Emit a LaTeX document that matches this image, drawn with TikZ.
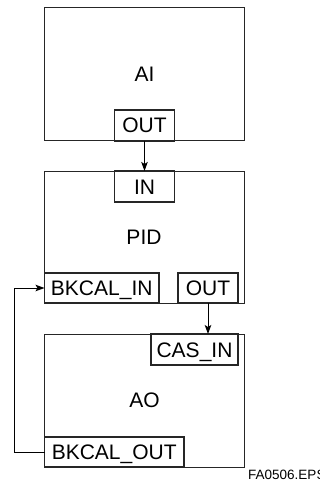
\documentclass[tikz,border=0pt]{standalone}
\usepackage{fontspec}
\setmainfont{Liberation Sans}
\usetikzlibrary{arrows.meta}
\begin{document}
\begin{tikzpicture}[x=1pt,y=-1pt,
  blk/.style={draw=black!85, line width=1pt, inner sep=0pt, outer sep=0pt, anchor=north west},
  port/.style={draw=black!85, line width=1.1pt, inner sep=0pt, outer sep=0pt, anchor=north west,
    font=\fontsize{21}{24}\selectfont, text height=15pt, text depth=0pt, align=center},
  lbl/.style={inner sep=0pt, font=\fontsize{21}{24}\selectfont, text height=15pt, text depth=0pt},
  conn/.style={draw=black, line width=1pt, -{Stealth[length=9pt,width=6.5pt,inset=2pt]}}
]
\useasboundingbox (0,0) rectangle (320,481);
% AI block
\node[blk, minimum width=200pt, minimum height=133pt] (ai) at (44.5,8) {};
\node[lbl] (ailbl) at (144.5,74) {AI};
\node[port, minimum width=60pt, minimum height=31pt] (aiout) at (114.5,110) {OUT};
% PID block
\node[blk, minimum width=200pt, minimum height=132pt] (pid) at (44.5,171) {};
\node[lbl] (pidlbl) at (144,237) {PID};
\node[port, minimum width=60pt, minimum height=31pt] (pidin) at (114.5,171) {IN};
\node[port, minimum width=114.5pt, minimum height=30pt] (bkin) at (44.5,273) {BKCAL\_IN};
\node[port, minimum width=60pt, minimum height=30pt] (pidout) at (178,273) {OUT};
% AO block
\node[blk, minimum width=200pt, minimum height=133pt] (ao) at (44.5,334) {};
\node[lbl] (aolbl) at (144.5,400) {AO};
\node[port, minimum width=87pt, minimum height=31pt] (casin) at (151,334) {CAS\_IN};
\node[port, minimum width=139.5pt, minimum height=30pt] (bkout) at (44.5,437) {BKCAL\_OUT};
% caption
\node[inner sep=0pt, anchor=base west, font=\fontsize{13.5}{15}\selectfont] (cap) at (248,479.5) {FA0506.EPS};
% connectors
\draw[conn] (aiout.south) -- (pidin.north);
\draw[conn] (pidout.south) -- (pidout.south |- casin.north);
\coordinate (fb1) at (14,452);
\coordinate (fb2) at (14,288);
\draw[conn] (bkout.west) -- (fb1) -- (fb2) -- (bkin.west);
\end{tikzpicture}
\end{document}
